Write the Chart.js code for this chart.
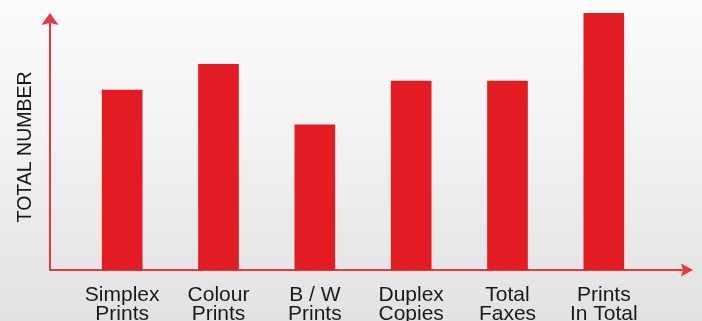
<!DOCTYPE html>
<html>
<head>
<meta charset="utf-8">
<script src="https://cdn.jsdelivr.net/npm/chart.js@4"></script>
<style>
  html, body { margin: 0; padding: 0; }
  body {
    width: 702px; height: 321px; overflow: hidden;
    background: linear-gradient(to bottom, #fbfbfb 0%, #f4f4f4 35%, #ebebeb 65%, #e2e2e2 100%);
  }
  canvas { display: block; }
</style>
</head>
<body>
<canvas id="myChart" width="702" height="321"></canvas>
<script>
// categories (two lines each) and bar values
let categories = [
  ['Simplex', 'Prints'],
  ['Colour', 'Prints'],
  ['B / W', 'Prints'],
  ['Duplex', 'Copies'],
  ['Total', 'Faxes'],
  ['Prints', 'In Total']
];
let totals = [70, 80, 56.5, 73.5, 73.5, 100];

let red = '#e31b23';
let axisRed = '#e3393f';

// red axes with arrow heads, drawn behind the bars
let arrowAxes = {
  id: 'arrowAxes',
  beforeDatasetsDraw(chart) {
    let {ctx, chartArea} = chart;
    let x0 = chartArea.left - 24;
    let y0 = chartArea.bottom;
    let yTip = chartArea.top;
    let xTip = chartArea.right + 41;
    ctx.save();
    ctx.strokeStyle = axisRed;
    ctx.fillStyle = axisRed;
    ctx.lineWidth = 2;
    ctx.beginPath();
    ctx.moveTo(x0, yTip + 8);
    ctx.lineTo(x0, y0);
    ctx.lineTo(xTip - 8, y0);
    ctx.stroke();
    // y arrow
    ctx.beginPath();
    ctx.moveTo(x0, yTip);
    ctx.lineTo(x0 + 8.5, yTip + 12);
    ctx.lineTo(x0, yTip + 10);
    ctx.lineTo(x0 - 8.5, yTip + 12);
    ctx.closePath();
    ctx.fill();
    // x arrow
    ctx.beginPath();
    ctx.moveTo(xTip, y0);
    ctx.lineTo(xTip - 12, y0 - 6.5);
    ctx.lineTo(xTip - 10, y0);
    ctx.lineTo(xTip - 12, y0 + 6.5);
    ctx.closePath();
    ctx.fill();
    ctx.restore();
  }
};

let ctx = document.getElementById('myChart').getContext('2d');
window.chart = new Chart(ctx, {
  type: 'bar',
  data: {
    labels: categories,
    datasets: [{
      label: 'Total number',
      backgroundColor: red,
      borderWidth: 0,
      barThickness: 40,
      data: totals
    }]
  },
  options: {
    responsive: false,
    animation: false,
    devicePixelRatio: 1,
    layout: { padding: { top: 13, right: 50, left: 0, bottom: 0 } },
    plugins: {
      legend: { display: false },
      tooltip: { enabled: false }
    },
    scales: {
      x: {
        grid: { display: false },
        border: { display: false },
        ticks: {
          color: '#1a1a1a',
          font: { family: '"Liberation Sans", Arial, sans-serif', size: 21, lineHeight: 0.9 },
          padding: 8,
          maxRotation: 0,
          autoSkip: false
        },
        afterFit: s => { s.height = 51; }
      },
      y: {
        min: 0,
        max: 100,
        grid: { display: false },
        border: { display: false },
        ticks: { display: false },
        title: {
          display: true,
          text: 'TOTAL NUMBER  ', // trailing spaces nudge it a bit lower
          color: '#1a1a1a',
          font: { family: '"Liberation Sans", Arial, sans-serif', size: 19.5 },
          padding: { top: 14 }
        },
        afterFit: s => { s.width = 74; }
      }
    }
  },
  plugins: [arrowAxes]
});
</script>
</body>
</html>
